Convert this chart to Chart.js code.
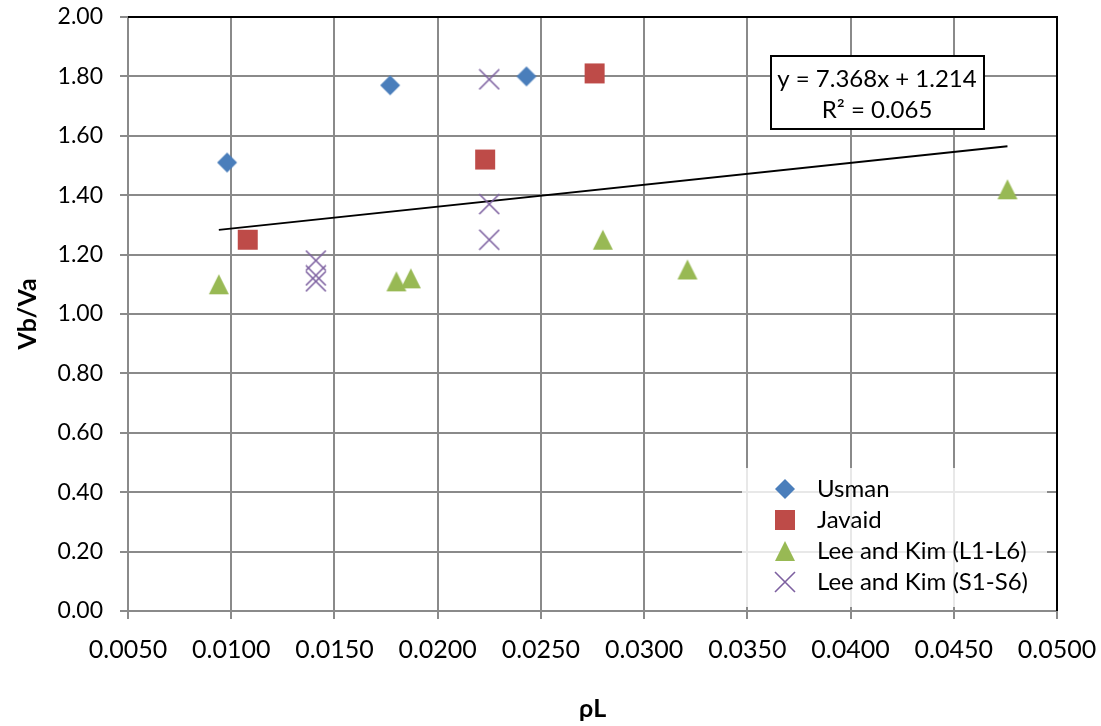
<!DOCTYPE html>
<html>
<head>
<meta charset="utf-8">
<script src="https://cdn.jsdelivr.net/npm/chart.js@4.4.0/dist/chart.umd.min.js"></script>
<style>
  html, body { margin: 0; padding: 0; background: #fff; }
  #wrap { width: 1101px; height: 726px; }
</style>
</head>
<body>
<div id="wrap"><canvas id="shearRatioChart"></canvas></div>
<script>
// reinforcement ratio (rhoL) vs shear ratio Vb/Va for each test series
var usmanX  = [0.0098, 0.0177, 0.0243];
var usmanY  = [1.51, 1.77, 1.80];
var javaidX = [0.0108, 0.0223, 0.0276];
var javaidY = [1.25, 1.52, 1.81];
var leeLX   = [0.0094, 0.0180, 0.0187, 0.0280, 0.0321, 0.0476];
var leeLY   = [1.10, 1.11, 1.12, 1.25, 1.15, 1.42];
var leeSX   = [0.0141, 0.0141, 0.0141, 0.0225, 0.0225, 0.0225];
var leeSY   = [1.18, 1.13, 1.11, 1.79, 1.37, 1.25];

// linear trend over all points
var trendSlope = 7.368;
var trendIntercept = 1.214;
var trendR2 = 0.065;

var rhoTicks   = [0.005, 0.010, 0.015, 0.020, 0.025, 0.030, 0.035, 0.040, 0.045, 0.050];
var ratioTicks = [0.0, 0.2, 0.4, 0.6, 0.8, 1.0, 1.2, 1.4, 1.6, 1.8, 2.0];

var FONT = 'Lato, "Open Sans", sans-serif';

function toPoints(xs, ys) {
  var pts = [];
  for (let i = 0; i < xs.length; i++) pts.push({x: xs[i], y: ys[i]});
  return pts;
}

// marker images, 22px canvases so the shape is centred on the point
function makeMarker(kind, color) {
  var c = document.createElement('canvas');
  c.width = 22; c.height = 22;
  var g = c.getContext('2d');
  g.fillStyle = color; g.strokeStyle = color;
  g.beginPath();
  if (kind === 'diamond') {
    g.moveTo(11, 1); g.lineTo(21, 11); g.lineTo(11, 21); g.lineTo(1, 11); g.closePath(); g.fill();
  } else if (kind === 'square') {
    g.rect(1, 1, 20, 20); g.fill();
  } else if (kind === 'triangle') {
    g.moveTo(11, 1); g.lineTo(21, 21); g.lineTo(1, 21); g.closePath(); g.fill();
  } else {
    g.lineWidth = 1.6;
    g.moveTo(1, 1); g.lineTo(21, 21); g.moveTo(21, 1); g.lineTo(1, 21); g.stroke();
  }
  return c;
}

var allX = usmanX.concat(javaidX, leeLX, leeSX);
var xMin = Math.min.apply(null, allX), xMax = Math.max.apply(null, allX);
var trendPts = [
  {x: xMin, y: trendSlope * xMin + trendIntercept},
  {x: xMax, y: trendSlope * xMax + trendIntercept}
];

var datasets = [
  {label: 'Usman', data: toPoints(usmanX, usmanY), pointStyle: makeMarker('diamond', '#4A7EBB')},
  {label: 'Javaid', data: toPoints(javaidX, javaidY), pointStyle: makeMarker('square', '#BE4B48')},
  {label: 'Lee and Kim (L1-L6)', data: toPoints(leeLX, leeLY), pointStyle: makeMarker('triangle', '#98B954')},
  {label: 'Lee and Kim (S1-S6)', data: toPoints(leeSX, leeSY), pointStyle: makeMarker('cross', '#7D60A0')},
  {label: 'trend', data: trendPts, type: 'line', borderColor: '#000', borderWidth: 2,
   pointRadius: 0, fill: false, isTrend: true}
];

// top/right frame, in-plot legend and the equation box
var plotExtras = {
  id: 'plotExtras',
  afterDatasetsDraw: function(chart) {
    var ctx = chart.ctx, a = chart.chartArea;
    ctx.save();
    ctx.strokeStyle = '#000';
    ctx.lineWidth = 2;
    ctx.beginPath();
    ctx.moveTo(a.left, a.top);
    ctx.lineTo(a.right, a.top);
    ctx.lineTo(a.right, a.bottom);
    ctx.stroke();

    // legend
    ctx.fillStyle = 'rgba(255,255,255,0.8)';
    ctx.fillRect(742, 468, 305, 139);
    ctx.font = '24px ' + FONT;
    ctx.textAlign = 'left';
    ctx.textBaseline = 'alphabetic';
    var rowY = 489;
    chart.data.datasets.forEach(function(ds) {
      if (ds.isTrend) return;
      var img = ds.pointStyle;
      ctx.drawImage(img, 785 - img.width / 2, rowY - img.height / 2);
      ctx.fillStyle = '#000';
      ctx.fillText(ds.label, 817, rowY + 8);
      rowY += 31;
    });

    // trendline equation
    ctx.fillStyle = '#fff';
    ctx.fillRect(771, 56, 213, 73);
    ctx.lineWidth = 2;
    ctx.strokeStyle = '#000';
    ctx.strokeRect(771, 56, 213, 73);
    ctx.fillStyle = '#000';
    ctx.font = '24px ' + FONT;
    ctx.textAlign = 'center';
    ctx.fillText('y = ' + trendSlope.toFixed(3) + 'x + ' + trendIntercept.toFixed(3), 877, 87);
    ctx.fillText('R\u00B2 = ' + trendR2.toFixed(3), 877, 118);
    ctx.restore();
  }
};

var gridGray = '#8a8a8a';

var chart = new Chart(document.getElementById('shearRatioChart'), {
  type: 'scatter',
  data: {datasets: datasets},
  plugins: [plotExtras],
  options: {
    responsive: true,
    maintainAspectRatio: false,
    animation: false,
    layout: {padding: {top: 17, right: 44, left: 0, bottom: 0}},
    elements: {point: {radius: 10, hoverRadius: 10}},
    plugins: {
      legend: {display: false},
      tooltip: {enabled: false}
    },
    scales: {
      x: {
        type: 'linear',
        min: 0.005,
        max: 0.05,
        afterBuildTicks: function(scale) {
          scale.ticks = rhoTicks.map(function(v) { return {value: v}; });
        },
        afterFit: function(scale) {
          scale.height = 115;
          scale.paddingLeft = 0;
          scale.paddingRight = 0;
        },
        ticks: {
          color: '#000',
          font: {family: FONT, size: 25},
          padding: 16,
          maxRotation: 0,
          callback: function(v) { return Number(v).toFixed(4); }
        },
        grid: {color: gridGray, lineWidth: 2, tickLength: 8, tickColor: gridGray},
        border: {color: gridGray, width: 2},
        title: {
          display: true,
          text: '\u03C1L',
          color: '#000',
          font: {family: FONT, size: 25, weight: 'bold'},
          padding: {top: 0, bottom: 2}
        }
      },
      y: {
        type: 'linear',
        min: 0,
        max: 2,
        afterBuildTicks: function(scale) {
          scale.ticks = ratioTicks.map(function(v) { return {value: v}; });
        },
        afterFit: function(scale) {
          scale.width = 128;
          scale.paddingTop = 0;
          scale.paddingBottom = 0;
        },
        ticks: {
          color: '#000',
          font: {family: FONT, size: 23},
          padding: 17,
          callback: function(v) { return Number(v).toFixed(2); }
        },
        grid: {color: gridGray, lineWidth: 2, tickLength: 8, tickColor: gridGray},
        border: {color: gridGray, width: 2},
        title: {
          display: true,
          text: 'Vb/Va',
          color: '#000',
          font: {family: FONT, size: 25, weight: 'bold'},
          padding: {top: 13, bottom: 0}
        }
      }
    }
  }
});
</script>
</body>
</html>
